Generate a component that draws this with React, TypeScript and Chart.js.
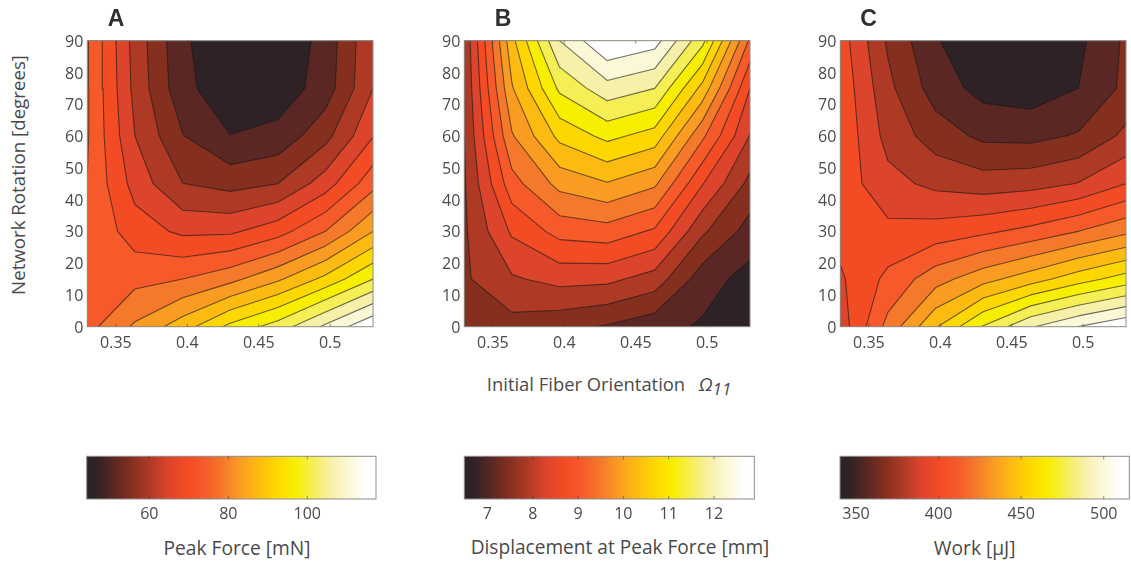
import React, { useEffect, useRef } from "react";
import { Chart, registerables } from "chart.js";

Chart.register(...registerables);

const orientation = [0.33, 0.3633, 0.3967, 0.43, 0.4633, 0.4967, 0.53];
const rotation = [0, 15, 30, 45, 60, 75, 90];
const orientationTicks = [0.35, 0.4, 0.45, 0.5];
const rotationTicks = [0, 10, 20, 30, 40, 50, 60, 70, 80, 90];

const peakForce = [
  [74.6, 81.5, 87.9, 95.7, 101.2, 109.2, 117.0],
  [74.8, 74.8, 76.2, 79.4, 84.6, 91.3, 99.1],
  [75.8, 69.2, 66.1, 66.2, 69.7, 76.2, 85.4],
  [76.1, 65.3, 58.0, 56.3, 57.9, 64.8, 74.6],
  [76.6, 62.5, 53.5, 48.8, 50.2, 56.4, 66.8],
  [76.7, 61.2, 50.1, 45.5, 45.8, 50.9, 62.5],
  [76.6, 60.7, 49.6, 44.4, 44.7, 50.4, 62.0],
];
const displacement = [
  [7.41, 7.54, 7.41, 7.25, 7.04, 6.84, 6.51],
  [7.63, 8.04, 8.22, 8.19, 7.92, 7.07, 6.74],
  [7.63, 8.55, 9.03, 9.12, 8.83, 7.76, 7.12],
  [7.65, 9.13, 9.82, 10.06, 9.76, 8.51, 7.57],
  [7.69, 9.65, 10.6, 11.0, 10.72, 9.37, 8.07],
  [7.73, 10.05, 11.37, 11.93, 11.69, 10.36, 8.49],
  [7.77, 10.37, 12.09, 12.89, 12.66, 11.41, 9.21],
];
const work = [
  [388.9, 420.5, 448.7, 472.5, 492.5, 504.6, 513.9],
  [393.4, 408.7, 423.4, 434.9, 444.9, 456.0, 465.7],
  [398.9, 397.9, 399.8, 403.8, 409.4, 417.0, 425.5],
  [401.3, 387.6, 381.4, 378.4, 379.9, 384.6, 395.1],
  [403.8, 380.3, 367.9, 359.8, 359.1, 363.3, 375.9],
  [402.9, 376.0, 357.1, 347.4, 345.1, 351.3, 364.9],
  [400.7, 371.5, 352.2, 342.4, 340.6, 348.5, 364.2],
];

const peakForceLevels = [48.7, 53.3, 57.9, 62.5, 67.0, 71.6, 76.2, 80.8, 85.4, 90.0, 94.5, 99.1, 103.7, 108.3, 112.9];
const displacementLevels = [6.89, 7.29, 7.69, 8.09, 8.49, 8.89, 9.29, 9.69, 10.09, 10.49, 10.89, 11.29, 11.69, 12.09, 12.49];
const workLevels = [351.25, 362.2, 373.15, 384.1, 395.05, 406.0, 416.95, 427.9, 438.85, 449.8, 460.75, 471.7, 482.65, 493.6, 504.55];

const bandColors = [
  "#2e2226", "#5a2724", "#85301f", "#ae3a25", "#dc442c", "#f34b24", "#f65a2a", "#f5792a",
  "#fa9c22", "#fdbb12", "#ffd700", "#f8ee00", "#f6ee55", "#f7f0a8", "#fbf8d8", "#ffffff",
];

const peakForceRange = [44.15, 117.4];
const displacementRange = [6.49, 12.89];
const workRange = [340.3, 515.5];
const peakForceTicks = [60, 80, 100];
const displacementTicks = [7, 8, 9, 10, 11, 12];
const workTicks = [350, 400, 450, 500];

const FONT = '"Open Sans", sans-serif';
const TEXT = "#4a4a4a";
const FRAME = "#8c8c8c";

type Pt = { x: number; y: number };

function cellCorners(z: number[][], r: number, c: number) {
  return [
    { x: orientation[c], y: rotation[r], z: z[r][c] },
    { x: orientation[c + 1], y: rotation[r], z: z[r][c + 1] },
    { x: orientation[c + 1], y: rotation[r + 1], z: z[r + 1][c + 1] },
    { x: orientation[c], y: rotation[r + 1], z: z[r + 1][c] },
  ];
}

function crossing(a: any, b: any, level: number): Pt {
  const t = (level - a.z) / (b.z - a.z);
  return { x: a.x + t * (b.x - a.x), y: a.y + t * (b.y - a.y) };
}

function abovePolygon(z: number[][], r: number, c: number, level: number): Pt[] {
  const q = cellCorners(z, r, c);
  const out: Pt[] = [];
  for (let i = 0; i < 4; i++) {
    const a = q[i];
    const b = q[(i + 1) % 4];
    if (a.z >= level) out.push({ x: a.x, y: a.y });
    if (a.z >= level !== b.z >= level) out.push(crossing(a, b, level));
  }
  return out;
}

function contourLine(z: number[][], level: number) {
  const pts: ({ x: number | null; y: number | null })[] = [];
  for (let r = 0; r < rotation.length - 1; r++) {
    for (let c = 0; c < orientation.length - 1; c++) {
      const q = cellCorners(z, r, c);
      const cuts: Pt[] = [];
      for (let i = 0; i < 4; i++) {
        const a = q[i];
        const b = q[(i + 1) % 4];
        if (a.z >= level !== b.z >= level) cuts.push(crossing(a, b, level));
      }
      for (let i = 0; i + 1 < cuts.length; i += 2) {
        pts.push(cuts[i], cuts[i + 1], { x: null, y: null });
      }
    }
  }
  return pts;
}

const frameTicksPlugin = {
  id: "frameTicks",
  afterDatasetsDraw(chart: any) {
    const { ctx, chartArea: a, scales } = chart;
    ctx.save();
    ctx.strokeStyle = FRAME;
    ctx.lineWidth = 1;
    ctx.strokeRect(a.left, a.top, a.right - a.left, a.bottom - a.top);
    ctx.strokeStyle = "rgba(60,60,60,0.55)";
    ctx.beginPath();
    for (const t of scales.x.ticks) {
      const px = scales.x.getPixelForValue(t.value);
      ctx.moveTo(px, a.bottom);
      ctx.lineTo(px, a.bottom - 3);
      ctx.moveTo(px, a.top);
      ctx.lineTo(px, a.top + 3);
    }
    ctx.stroke();
    ctx.restore();
  },
};

function contourFillPlugin(z: number[][], levels: number[]) {
  return {
    id: "contourFill",
    beforeDatasetsDraw(chart: any) {
      const { ctx, chartArea: a, scales } = chart;
      ctx.save();
      ctx.fillStyle = bandColors[0];
      ctx.fillRect(a.left, a.top, a.right - a.left, a.bottom - a.top);
      levels.forEach((level, k) => {
        ctx.beginPath();
        for (let r = 0; r < rotation.length - 1; r++) {
          for (let c = 0; c < orientation.length - 1; c++) {
            const poly = abovePolygon(z, r, c, level);
            poly.forEach((p, i) => {
              const px = scales.x.getPixelForValue(p.x);
              const py = scales.y.getPixelForValue(p.y);
              if (i === 0) ctx.moveTo(px, py);
              else ctx.lineTo(px, py);
            });
            if (poly.length) ctx.closePath();
          }
        }
        ctx.fillStyle = bandColors[k + 1];
        ctx.fill();
      });
      ctx.restore();
    },
  };
}

const tickFont = { family: FONT, size: 16 };

function makeContour(canvas: HTMLCanvasElement, z: number[][], levels: number[]) {
  return new Chart(canvas, {
    type: "scatter",
    data: {
      datasets: levels.map((level) => ({
        label: String(level),
        data: contourLine(z, level),
        showLine: true,
        pointRadius: 0,
        borderColor: "rgba(25,25,25,0.62)",
        borderWidth: 1.1,
        borderCapStyle: "round",
        tension: 0,
        fill: false,
      })),
    } as any,
    options: {
      animation: false,
      responsive: false,
      events: [],
      layout: { autoPadding: false, padding: { left: 0, right: 12, top: 30.7, bottom: 0 } },
      plugins: { legend: { display: false }, tooltip: { enabled: false } },
      scales: {
        x: {
          type: "linear",
          min: 0.33,
          max: 0.53,
          grid: { display: false, drawTicks: false },
          border: { display: false },
          afterBuildTicks: (s: any) => {
            s.ticks = orientationTicks.map((value) => ({ value }));
          },
          afterFit: (s: any) => {
            s.height = 30.3;
          },
          ticks: {
            autoSkip: false,
            maxRotation: 0,
            padding: 7,
            color: TEXT,
            font: tickFont,
            callback: (v: any) => String(v),
          },
        },
        y: {
          type: "linear",
          min: 0,
          max: 90,
          grid: { display: false, drawTicks: false },
          border: { display: false },
          afterBuildTicks: (s: any) => {
            s.ticks = rotationTicks.map((value) => ({ value }));
          },
          afterFit: (s: any) => {
            s.width = 47.3;
          },
          ticks: {
            autoSkip: false,
            padding: 4,
            labelOffset: 1.5,
            color: TEXT,
            font: tickFont,
            callback: (v: any) => String(v),
          },
        },
      },
    } as any,
    plugins: [contourFillPlugin(z, levels), frameTicksPlugin],
  });
}

function makeColorbar(canvas: HTMLCanvasElement, range: number[], ticks: number[], padLeft: number, padRight: number) {
  return new Chart(canvas, {
    type: "bar",
    data: {
      labels: [""],
      datasets: [
        {
          data: [[range[0], range[1]]],
          barPercentage: 1,
          categoryPercentage: 1,
          borderWidth: 0,
          backgroundColor: (ctx: any) => {
            const a = ctx.chart.chartArea;
            if (!a) return bandColors[0];
            const g = ctx.chart.ctx.createLinearGradient(a.left, 0, a.right, 0);
            bandColors.forEach((col, i) => g.addColorStop((i + 0.5) / bandColors.length, col));
            return g;
          },
        },
      ],
    } as any,
    options: {
      indexAxis: "y",
      animation: false,
      responsive: false,
      events: [],
      layout: { autoPadding: false, padding: { left: padLeft, right: padRight, top: 6.3, bottom: 0 } },
      plugins: { legend: { display: false }, tooltip: { enabled: false } },
      scales: {
        y: { display: false },
        x: {
          type: "linear",
          min: range[0],
          max: range[1],
          grid: { display: false, drawTicks: false },
          border: { display: false },
          afterBuildTicks: (s: any) => {
            s.ticks = ticks.map((value) => ({ value }));
          },
          afterFit: (s: any) => {
            s.height = 28;
          },
          ticks: {
            autoSkip: false,
            maxRotation: 0,
            padding: 6,
            color: TEXT,
            font: tickFont,
            callback: (v: any) => String(v),
          },
        },
      },
    } as any,
    plugins: [frameTicksPlugin],
  });
}

const panels = [
  { z: peakForce, levels: peakForceLevels, left: 40 },
  { z: displacement, levels: displacementLevels, left: 416.5 },
  { z: work, levels: workLevels, left: 792.5 },
];
const bars = [
  { range: peakForceRange, ticks: peakForceTicks, left: 60, width: 330, barLeft: 86.7, barRight: 376 },
  { range: displacementRange, ticks: displacementTicks, left: 440, width: 330, barLeft: 464.3, barRight: 754.3 },
  { range: workRange, ticks: workTicks, left: 810, width: 321, barLeft: 840, barRight: 1129.3 },
];

function Label(props: { x: number; y: number; size: number; rotate?: boolean; bold?: boolean; children: any }) {
  const { x, y, size, rotate, bold, children } = props;
  return (
    <div
      style={{
        position: "absolute",
        left: x,
        top: y,
        whiteSpace: "nowrap",
        fontFamily: bold ? '"Liberation Sans", sans-serif' : FONT,
        fontWeight: bold ? 700 : 400,
        fontSize: size,
        lineHeight: 1,
        color: bold ? "#303030" : TEXT,
        transform: `translate(-50%,-50%)${rotate ? " rotate(-90deg)" : ""}`,
      }}
    >
      {children}
    </div>
  );
}

export default function App() {
  const panelRefs = useRef<(HTMLCanvasElement | null)[]>([]);
  const barRefs = useRef<(HTMLCanvasElement | null)[]>([]);

  useEffect(() => {
    const charts: Chart[] = [];
    panels.forEach((p, i) => charts.push(makeContour(panelRefs.current[i]!, p.z, p.levels)));
    bars.forEach((b, i) =>
      charts.push(makeColorbar(barRefs.current[i]!, b.range, b.ticks, b.barLeft - b.left, b.left + b.width - b.barRight))
    );
    return () => charts.forEach((c) => c.destroy());
  }, []);

  return (
    <div
      style={{
        position: "absolute",
        left: 0,
        top: 0,
        width: 1131,
        height: 565,
        overflow: "hidden",
        background: "#fff",
        filter: "blur(0.55px)",
      }}
    >
      {panels.map((p, i) => (
        <canvas
          key={i}
          ref={(el) => {
            panelRefs.current[i] = el;
          }}
          width={345}
          height={347}
          style={{ position: "absolute", left: p.left, top: 10, width: 345, height: 347 }}
        />
      ))}
      {bars.map((b, i) => (
        <canvas
          key={i}
          ref={(el) => {
            barRefs.current[i] = el;
          }}
          width={b.width}
          height={77}
          style={{ position: "absolute", left: b.left, top: 450, width: b.width, height: 77 }}
        />
      ))}
      <Label x={116} y={18} size={23} bold>A</Label>
      <Label x={503} y={18} size={23} bold>B</Label>
      <Label x={868.5} y={18} size={23} bold>C</Label>
      <Label x={18} y={175} size={18.7} rotate>Network Rotation [degrees]</Label>
      <Label x={586} y={384} size={18.4}>Initial Fiber Orientation</Label>
      <Label x={715} y={386} size={19}>
        <i>
          Ω<sub style={{ fontSize: 17, verticalAlign: "-4px" }}>11</sub>
        </i>
      </Label>
      <Label x={237} y={548} size={19.2}>Peak Force [mN]</Label>
      <Label x={620} y={548} size={19.1}>Displacement at Peak Force [mm]</Label>
      <Label x={974.7} y={548} size={19.2}>Work [µJ]</Label>
    </div>
  );
}
